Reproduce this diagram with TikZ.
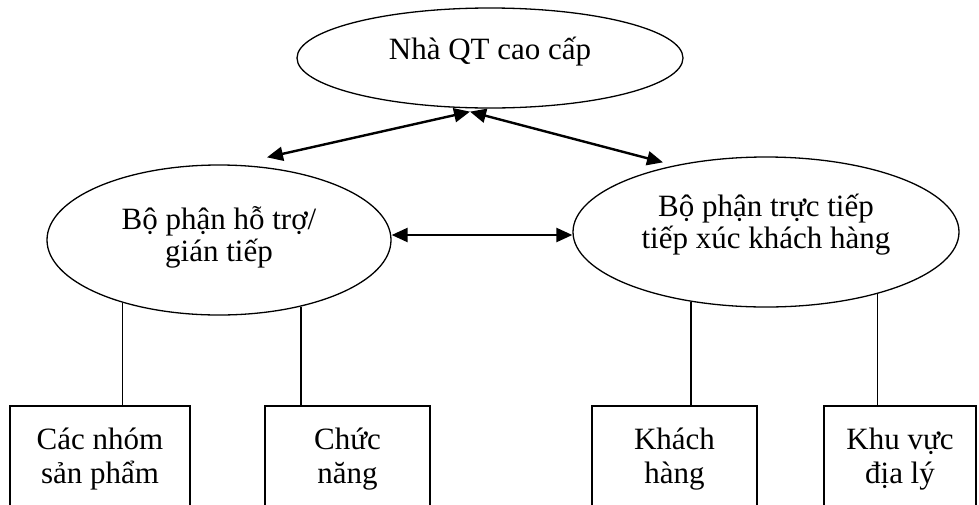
\documentclass[tikz,border=0pt]{standalone}
\usepackage{fontspec}
\setmainfont{Liberation Serif}
\usetikzlibrary{arrows.meta,shapes.geometric}

% centred lines whose baseline is that of the first line
\newcommand{\linesc}[1]{\begin{tabular}[t]{@{}c@{}}#1\end{tabular}}

\tikzset{
  oval/.style={ellipse, draw, line width=1.3pt, inner sep=0pt, text height=20pt},
  unitbox/.style={rectangle, draw, line width=1.8pt, anchor=north,
    inner xsep=0pt, inner ysep=24pt, text height=20pt, text depth=110pt},
  link/.style={line width=1.4pt},
  twoway/.style={line width=2.4pt, {Triangle[length=16pt,width=14pt]}-{Triangle[length=16pt,width=14pt]}}
}

\begin{document}
\begin{tikzpicture}[x=1pt, y=-1pt, font=\fontsize{31}{32}\selectfont]
  \clip (0,0) rectangle (979,504);
  \fill[white] (0,0) rectangle (979,504);

  % management levels
  \node[oval, minimum width=386pt, minimum height=100pt, text depth=18pt]
    (top) at (490,58) {Nhà QT cao cấp};
  \node[oval, minimum width=344pt, minimum height=150pt, text depth=42pt]
    (left) at (219,240) {\linesc{Bộ phận hỗ trợ/\\gián tiếp}};
  \node[oval, minimum width=386pt, minimum height=150pt, text depth=52pt]
    (right) at (766,232) {\linesc{Bộ phận trực tiếp\\tiếp xúc khách hàng}};

  % organising criteria
  \begin{scope}[font=\fontsize{31}{34}\selectfont]
    \node[unitbox, minimum width=180pt] (b1) at (100,405) {\linesc{Các nhóm\\sản phẩm}};
    \node[unitbox, minimum width=165pt] (b2) at (347.5,405) {\linesc{Chức\\năng}};
    \node[unitbox, minimum width=165pt] (b3) at (674.5,405) {\linesc{Khách\\hàng}};
    \node[unitbox, minimum width=152pt] (b4) at (900,405) {\linesc{Khu vực\\địa lý}};
  \end{scope}

  % two-way relations
  \draw[twoway] ([shift={(-20,3)}]top.south) -- ([shift={(48,-7)}]left.north);
  \draw[twoway] ([shift={(-20,3)}]top.south) -- ([shift={(-103,6)}]right.north);
  \draw[twoway] ([yshift=5pt]left.east) -- ([yshift=-3pt]right.west);

  % branches down to the criteria
  \draw[link] (left.213.8) -- (left.213.8 |- b1.north);
  \draw[link] (left.321.2) -- (left.321.2 |- b2.north);
  \draw[link] (right.223.4) -- (right.223.4 |- b3.north);
  \draw[link] (right.331.4) -- (right.331.4 |- b4.north);
\end{tikzpicture}
\end{document}
